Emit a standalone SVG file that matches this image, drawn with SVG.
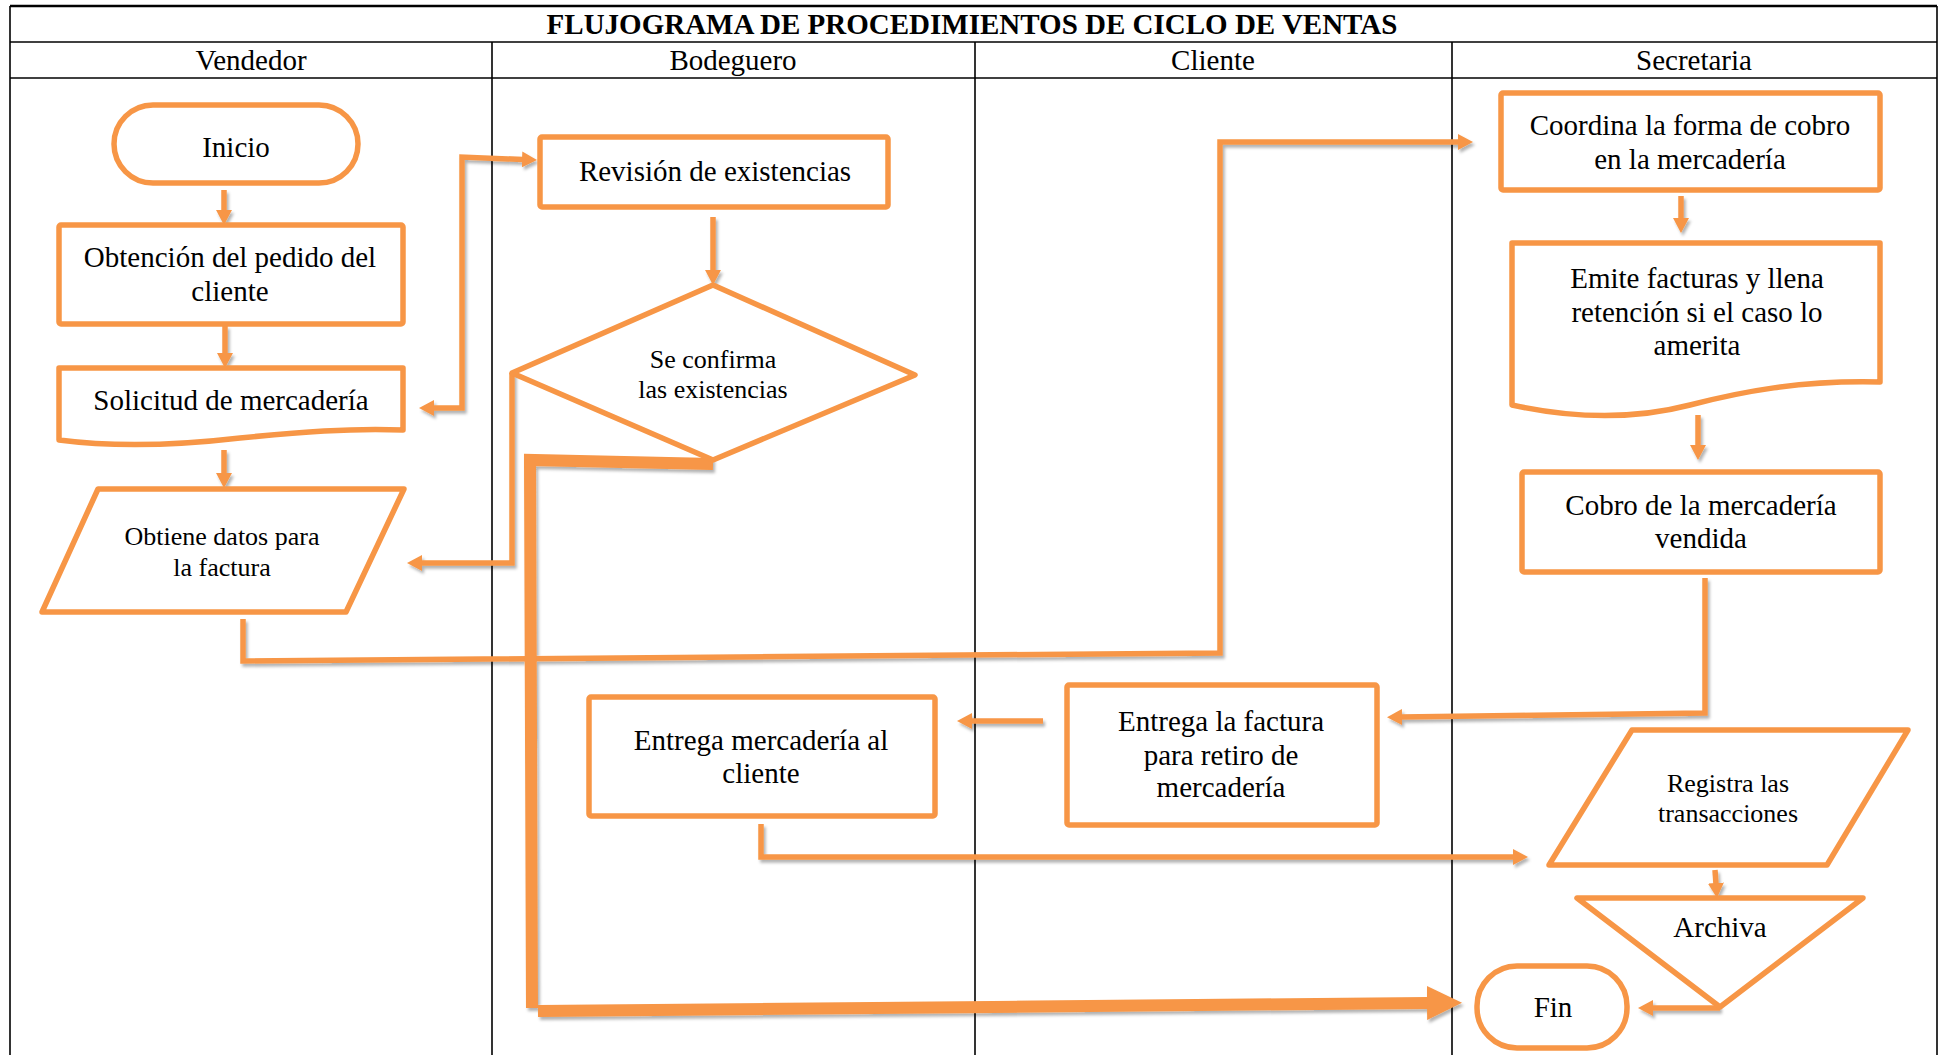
<svg xmlns="http://www.w3.org/2000/svg" width="1943" height="1055" viewBox="0 0 1943 1055">
<style>
.grid{stroke:#000;stroke-width:1.6;fill:none}
.shape{fill:#fff;stroke:#F79646;stroke-width:5.5;stroke-linejoin:round}
.conn{fill:none;stroke:#F79646;stroke-width:5.5;stroke-linejoin:miter}
.thick{stroke-width:12}
.t{font-family:"Liberation Serif","Times New Roman",serif;font-size:29px;fill:#000;text-anchor:middle}
.s{font-size:26px}
.title{font-weight:bold}
</style>
<defs>
<marker id="ah" markerUnits="userSpaceOnUse" markerWidth="16" markerHeight="16" refX="1" refY="8" orient="auto-start-reverse" viewBox="0 0 16 16">
<path d="M0,0 L15,8 L0,16 Z" fill="#F79646"/>
</marker>
<marker id="ahT" markerUnits="userSpaceOnUse" markerWidth="36" markerHeight="34" refX="1" refY="17" orient="auto" viewBox="0 0 36 34">
<path d="M0,0 L35,17 L0,34 Z" fill="#F79646"/>
</marker>
<filter id="sh" x="-5%" y="-5%" width="110%" height="110%">
<feDropShadow dx="2" dy="3" stdDeviation="1.5" flood-color="#000" flood-opacity="0.3"/>
</filter>
</defs>
<rect x="0" y="0" width="1943" height="1055" fill="#fff"/>
<g id="table">
<line class="grid" x1="10" y1="6" x2="1937" y2="6" style="stroke-width:2.5"/>
<line class="grid" x1="10" y1="6" x2="10" y2="1055"/>
<line class="grid" x1="1937" y1="6" x2="1937" y2="1055"/>
<line class="grid" x1="10" y1="42" x2="1937" y2="42"/>
<line class="grid" x1="10" y1="78" x2="1937" y2="78"/>
<line class="grid" x1="492" y1="42" x2="492" y2="1055"/>
<line class="grid" x1="975" y1="42" x2="975" y2="1055"/>
<line class="grid" x1="1452" y1="42" x2="1452" y2="1055"/>
<text class="t title" x="972" y="34">FLUJOGRAMA DE PROCEDIMIENTOS DE CICLO DE VENTAS</text>
<text class="t" x="251" y="70">Vendedor</text>
<text class="t" x="733" y="70">Bodeguero</text>
<text class="t" x="1213" y="70">Cliente</text>
<text class="t" x="1694" y="70">Secretaria</text>
</g>
<g id="connectors" filter="url(#sh)">
<path class="conn" d="M224,190 L224,211" marker-end="url(#ah)"/>
<path class="conn" d="M225,326 L225,354" marker-end="url(#ah)"/>
<path class="conn" d="M224,450 L224,474" marker-end="url(#ah)"/>
<path class="conn" d="M523,159.5 L462,157 L462,408 L433,408" marker-start="url(#ah)" marker-end="url(#ah)"/>
<path class="conn" d="M512,373 L512,563 L421,563" marker-end="url(#ah)"/>
<path class="conn" d="M713,217 L713,271" marker-end="url(#ah)"/>
<path class="conn" d="M243,619 L243,661 L1220,653 L1220,142 L1459,142" marker-end="url(#ah)"/>
<path class="conn" d="M1681,196 L1681,219" marker-end="url(#ah)"/>
<path class="conn" d="M1698,415 L1698,446" marker-end="url(#ah)"/>
<path class="conn" d="M1705,578 L1705,713 L1401,717" marker-end="url(#ah)"/>
<path class="conn" d="M1043,721 L971,721" marker-end="url(#ah)"/>
<path class="conn" d="M761,824 L761,857 L1514,857" marker-end="url(#ah)"/>
<path class="conn" d="M1715,870 L1716,884" marker-end="url(#ah)"/>
<path class="conn" d="M1720,1008 L1652,1008" marker-end="url(#ah)"/>
<path class="conn thick" d="M713,464 L530,460 L532,1008"/>
<path class="conn thick" d="M538,1011 L1428,1003" marker-end="url(#ahT)"/>
</g>
<g id="inicio">
<rect class="shape" x="114" y="105" width="244" height="78" rx="39" ry="39"/>
<text class="t" x="236" y="157">Inicio</text>
</g>
<g id="obtencion">
<rect class="shape" x="59" y="225" width="344" height="99" rx="2"/>
<text class="t" x="230" y="267">Obtención del pedido del</text>
<text class="t" x="230" y="301">cliente</text>
</g>
<g id="solicitud">
<path class="shape" d="M59,368 L403,368 L403,430 C350,428 300,432 240,438 C180,445 120,448 59,440 Z"/>
<text class="t" x="231" y="410">Solicitud de mercadería</text>
</g>
<g id="obtiene">
<path class="shape" d="M98,489 L404,489 L346,612 L42,612 Z"/>
<text class="t s" x="222" y="545">Obtiene datos para</text>
<text class="t s" x="222" y="576">la factura</text>
</g>
<g id="revision">
<rect class="shape" x="540" y="137" width="348" height="70" rx="2"/>
<text class="t" x="715" y="181">Revisión de existencias</text>
</g>
<g id="confirma">
<path class="shape" d="M713,285 L915,375 L713,460 L512,373 Z"/>
<text class="t s" x="713" y="368">Se confirma</text>
<text class="t s" x="713" y="398">las existencias</text>
</g>
<g id="coordina">
<rect class="shape" x="1501" y="93" width="379" height="97" rx="2"/>
<text class="t" x="1690" y="135">Coordina la forma de cobro</text>
<text class="t" x="1690" y="169">en la mercadería</text>
</g>
<g id="emite">
<path class="shape" d="M1512,243 L1880,243 L1880,382 C1800,380 1740,392 1690,405 C1640,418 1580,420 1512,405 Z"/>
<text class="t" x="1697" y="288">Emite facturas y llena</text>
<text class="t" x="1697" y="322">retención si el caso lo</text>
<text class="t" x="1697" y="355">amerita</text>
</g>
<g id="cobro">
<rect class="shape" x="1522" y="472" width="358" height="100" rx="2"/>
<text class="t" x="1701" y="515">Cobro de la mercadería</text>
<text class="t" x="1701" y="548">vendida</text>
</g>
<g id="entregaFactura">
<rect class="shape" x="1067" y="685" width="310" height="140" rx="2"/>
<text class="t" x="1221" y="731">Entrega la factura</text>
<text class="t" x="1221" y="765">para retiro de</text>
<text class="t" x="1221" y="797">mercadería</text>
</g>
<g id="entregaMercaderia">
<rect class="shape" x="589" y="697" width="346" height="119" rx="2"/>
<text class="t" x="761" y="750">Entrega mercadería al</text>
<text class="t" x="761" y="783">cliente</text>
</g>
<g id="registra">
<path class="shape" d="M1632,730 L1908,730 L1827,865 L1549,865 Z"/>
<text class="t s" x="1728" y="792">Registra las</text>
<text class="t s" x="1728" y="822">transacciones</text>
</g>
<g id="archiva">
<path class="shape" d="M1577,898 L1863,898 L1720,1007 Z"/>
<text class="t" x="1720" y="937">Archiva</text>
</g>
<g id="fin">
<rect class="shape" x="1477" y="966" width="150" height="82" rx="40" ry="40"/>
<text class="t" x="1553" y="1017">Fin</text>
</g>
</svg>
